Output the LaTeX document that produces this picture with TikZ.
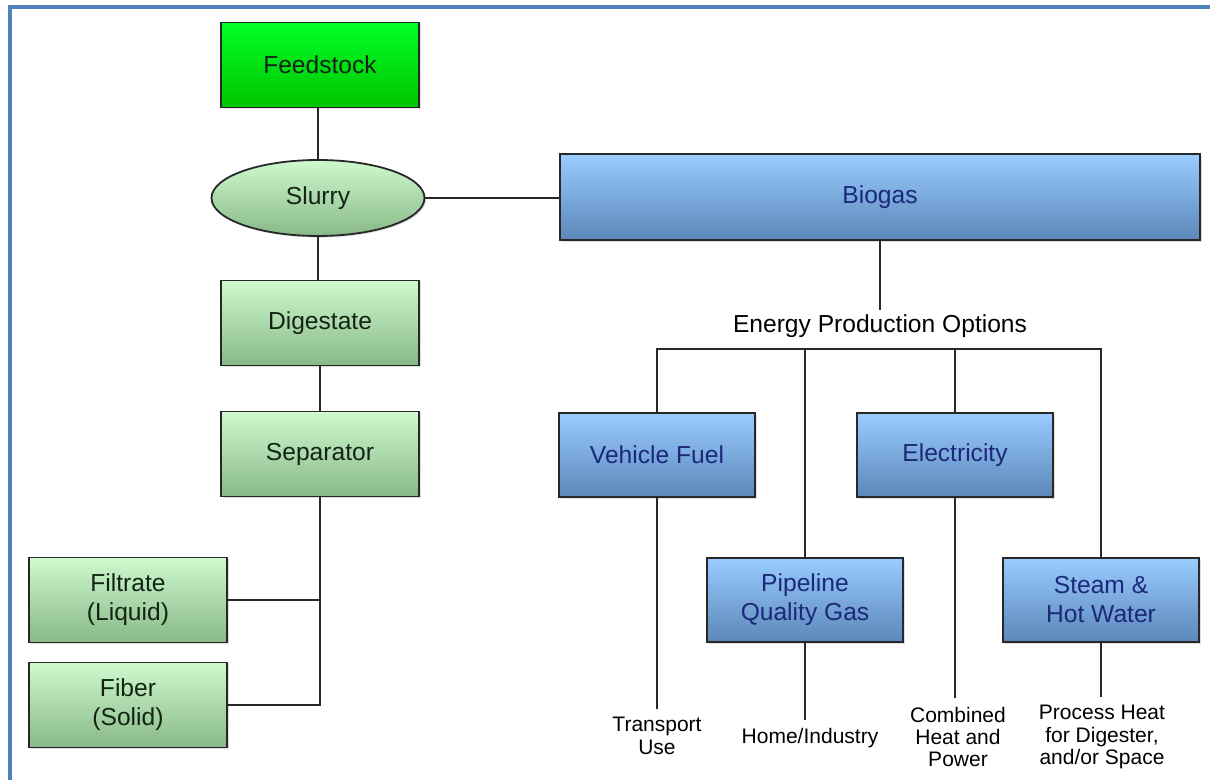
\documentclass[tikz,border=0pt]{standalone}
\usepackage{fontspec}
\setmainfont{Liberation Sans}
\usepackage{tikz}
\usepackage{xcolor}
\usetikzlibrary{shapes.geometric, shadows}

\definecolor{framecol}{RGB}{79,129,189}
\definecolor{greentop}{RGB}{206,250,206}
\definecolor{greenmid}{RGB}{184,232,184}
\definecolor{greenbot}{RGB}{136,184,136}
\definecolor{feedtop}{RGB}{0,255,40}
\definecolor{feedbot}{RGB}{0,196,0}
\definecolor{bluetop}{RGB}{153,204,255}
\definecolor{bluemid}{RGB}{130,180,235}
\definecolor{bluebot}{RGB}{92,134,184}
\definecolor{navytext}{RGB}{28,40,122}
\definecolor{darktext}{RGB}{20,36,20}
\definecolor{linecol}{RGB}{40,40,40}

\begin{document}
\begin{tikzpicture} [
        x = 0.5pt, y = -0.5pt,
        every node/.style = { font = \fontsize{12.3}{14.5}\selectfont, align = center },
        box/.style = { draw = linecol, line width = 0.9pt, rectangle,
            drop shadow={opacity=0.25,shadow xshift=0.8pt,shadow yshift=-0.8pt} },
        greenbox/.style = { box, text = darktext, top color = greentop, middle color = greenmid,
            bottom color = greenbot, minimum width = 99pt, minimum height = 42.5pt },
        feedbox/.style = { greenbox, top color = feedtop, middle color = feedtop!70!feedbot,
            bottom color = feedbot },
        bluebox/.style = { box, text = navytext, top color = bluetop, middle color = bluemid,
            bottom color = bluebot, minimum width = 98pt, minimum height = 42pt },
        use/.style = { font = \fontsize{10.5}{11.2}\selectfont, inner sep = 4pt },
        link/.style = { draw = linecol, line width = 0.8pt }
        ]

        \useasboundingbox (0,0) rectangle (1210,780);
        \draw [framecol, line width = 1.6pt] (10,781) -- (10,7) -- (1211,7);

        % left column
        \node [feedbox] (feed) at (320,65) {Feedstock};
        \node [box, ellipse, text = darktext, top color = greentop, middle color = greenmid,
            bottom color = greenbot, minimum width = 106.5pt, minimum height = 38pt,
            inner sep = 0] (slurry) at (318,198) {Slurry};
        \node [greenbox] (dig) at (320,323) {Digestate};
        \node [greenbox] (sep) at (320,454) {Separator};
        \node [greenbox] (filt) at (128,600) {Filtrate\\(Liquid)};
        \node [greenbox] (fiber) at (128,705) {Fiber\\(Solid)};

        % biogas side
        \node [bluebox, minimum width = 320pt, minimum height = 43pt] (biogas) at (880,197) {Biogas};
        \node [inner sep = 2pt] (epo) at (880,326) {Energy Production Options};
        \coordinate (bus) at (880,349);

        \node [bluebox] (vf) at (657,455) {Vehicle Fuel};
        \node [bluebox] (elec) at (955,455) {Electricity};
        \node [bluebox] (pipe) at (805,600) {Pipeline\\Quality Gas};
        \node [bluebox] (steam) at (1101,600) {Steam \&\\Hot Water};

        \node [use] (tu) at (657,736) {Transport\\Use};
        \node [use] (hi) at (810,738) {Home/Industry};
        \node [use] (chp) at (958,737) {Combined\\Heat and\\Power};
        \node [use] (ph) at (1102,737) {Process Heat\\for Digester,\\and/or Space};

        % connectors
        \draw [link] (feed.south -| slurry.north) -- (slurry.north);
        \draw [link] (slurry) -- (slurry.south |- dig.north);
        \draw [link] (dig) -- (sep);
        \draw [link] (sep.south) -- (sep.south |- fiber.east) -- (fiber.east);
        \draw [link] (filt.east) -- (filt.east -| sep.south);
        \draw [link] (slurry.east) -- (slurry.east -| biogas.west);
        \draw [link] (biogas.south) -- (epo.north);
        \draw [link] (vf.north) |- (steam.north |- bus) -- (steam.north);
        \draw [link] (pipe.north) -- (pipe.north |- bus);
        \draw [link] (elec.north) -- (elec.north |- bus);
        \draw [link] (vf.south) -- (tu.north -| vf.south);
        \draw [link] (pipe.south) -- (hi.north -| pipe.south);
        \draw [link] (elec.south) -- (chp.north -| elec.south);
        \draw [link] (steam.south) -- (ph.north -| steam.south);
    \end{tikzpicture}
\end{document}
